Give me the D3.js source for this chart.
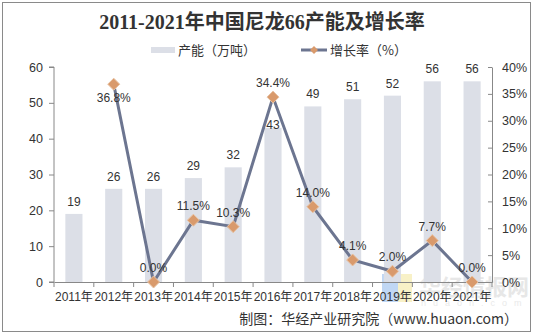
<!DOCTYPE html>
<html><head><meta charset="utf-8">
<script src="https://cdnjs.cloudflare.com/ajax/libs/d3/7.8.5/d3.min.js"></script>
<style>body{margin:0;background:#fff}svg{display:block}</style>
</head><body><svg id="c" width="533" height="335"></svg>
<script>
const years = ["2011年","2012年","2013年","2014年","2015年","2016年","2017年","2018年","2019年","2020年","2021年"];
const capacity = [19,26,26,29,32,43,49,51,52,56,56];
const growth = [null,36.8,0.0,11.5,10.3,34.4,14.0,4.1,2.0,7.7,0.0];
const leftTicks = [0,10,20,30,40,50,60];
const rightTicks = [0,5,10,15,20,25,30,35,40];

const svg = d3.select("#c");
const font = "Liberation Sans, Arial, Noto Sans CJK SC, sans-serif";
const m = {l:54, r:492, t:67, b:282};

svg.append("rect").attr("x",2.5).attr("y",2.5).attr("width",528).attr("height",329)
  .attr("fill","#fff").attr("stroke","#8a8a8a").attr("stroke-width",1);

svg.append("text").attr("x",262).attr("y",29).attr("text-anchor","middle")
  .attr("font-family","Liberation Serif, Noto Sans CJK SC, serif").attr("font-weight","bold")
  .attr("font-size",20).attr("fill","#333").text("2011-2021年中国尼龙66产能及增长率");

const x = d3.scaleBand().domain(years).range([m.l,m.r]).paddingInner(0.57).paddingOuter(0.285);
const xb = d3.scaleBand().domain(years).range([m.l,m.r]);
const y = d3.scaleLinear().domain([0,60]).range([m.b,m.t]);
const y2 = d3.scaleLinear().domain([0,40]).range([m.b,m.t]);

// watermark
const wm = svg.append("g").attr("opacity",0.55);
wm.append("rect").attr("x",382).attr("y",274).attr("width",16).attr("height",28).attr("fill","#8db8ec");
wm.append("rect").attr("x",398).attr("y",274).attr("width",14).attr("height",28).attr("fill","#f4e79a");
wm.append("text").attr("x",419).attr("y",295).attr("font-family","Noto Sans CJK SC").attr("font-weight","bold")
  .attr("font-size",22).attr("fill","#d4d4d4").text("华经情报网");
wm.append("text").attr("x",421).attr("y",306).attr("font-family",font)
  .attr("font-size",9).attr("letter-spacing",7).attr("fill","#d8d8d8").text("huaon.com");

// bars
svg.append("g").selectAll("rect").data(capacity).join("rect")
  .attr("x",(d,i)=>x(years[i])).attr("width",x.bandwidth())
  .attr("y",d=>y(d)).attr("height",d=>y(0)-y(d)).attr("fill","#dcdfe7");

svg.append("g").selectAll("text").data(capacity).join("text")
  .attr("x",(d,i)=>xb(years[i])+xb.bandwidth()/2)
  .attr("y",(d,i)=>y(d)-(i===5?-1:8)).attr("text-anchor","middle")
  .attr("font-family",font).attr("font-size",12).attr("fill","#333").text(d=>d);

// axes
const gl = svg.append("g").attr("transform",`translate(${m.l},0)`)
  .call(d3.axisLeft(y).tickValues(leftTicks).tickSize(5).tickPadding(6));
const gr = svg.append("g").attr("transform",`translate(${m.r},0)`)
  .call(d3.axisRight(y2).tickValues(rightTicks).tickFormat(d=>d+"%").tickSizeInner(-4).tickSizeOuter(0).tickPadding(10));
const gx = svg.append("g").attr("transform",`translate(0,${m.b})`)
  .call(d3.axisBottom(xb).tickSize(0).tickPadding(10));
gx.selectAll(".tick line").remove();
gx.append("g").selectAll("line").data(d3.range(years.length+1)).join("line")
  .attr("x1",i=>m.l+i*xb.step()).attr("x2",i=>m.l+i*xb.step()).attr("y1",0).attr("y2",5).attr("stroke","#888");
gl.select(".domain").attr("d",`M-5,${m.t}H0V${m.b}H-5`);
[gl,gr,gx].forEach(g=>{
  g.selectAll(".domain").attr("stroke","#888");
  g.selectAll(".tick line").attr("stroke","#888");
  g.selectAll("text").attr("font-family",font).attr("font-size",12.5).attr("fill","#333");
});
gx.selectAll("text").attr("font-size",12);

// line
const pts = growth.map((v,i)=>({v,i})).filter(d=>d.v!==null);
const line = d3.line().x(d=>xb(years[d.i])+xb.bandwidth()/2).y(d=>y2(d.v));
svg.append("path").datum(pts).attr("d",line).attr("fill","none").attr("stroke","#6c7590").attr("stroke-width",3);
svg.append("g").selectAll("path").data(pts).join("path")
  .attr("transform",d=>`translate(${xb(years[d.i])+xb.bandwidth()/2},${y2(d.v)})`)
  .attr("d","M0,-6L6,0L0,6L-6,0Z").attr("fill","#d99a6c").attr("stroke","#e8c3a4").attr("stroke-width",1);
svg.append("g").selectAll("text").data(pts).join("text")
  .attr("x",d=>xb(years[d.i])+xb.bandwidth()/2)
  .attr("y",d=>y2(d.v)+(d.i===1?18:-10)).attr("text-anchor","middle")
  .attr("font-family",font).attr("font-size",12).attr("fill","#333").text(d=>d.v.toFixed(1)+"%");

// legend
const lg = svg.append("g").attr("font-family","Noto Sans CJK SC, sans-serif").attr("font-size",13).attr("fill","#333");
lg.append("rect").attr("x",151).attr("y",47).attr("width",24).attr("height",6).attr("fill","#dcdfe7");
lg.append("text").attr("x",178).attr("y",55).text("产能（万吨）");
lg.append("line").attr("x1",301).attr("x2",327).attr("y1",50).attr("y2",50).attr("stroke","#6c7590").attr("stroke-width",3);
lg.append("path").attr("transform","translate(314,50)").attr("d","M0,-4L4,0L0,4L-4,0Z").attr("fill","#d99a6c");
lg.append("text").attr("x",330).attr("y",55).text("增长率（%）");

svg.append("text").attr("x",518).attr("y",324).attr("text-anchor","end")
  .attr("font-family","Noto Sans CJK SC, sans-serif").attr("font-size",14).attr("fill","#333")
  .text("制图：华经产业研究院（www.huaon.com）");
</script></body></html>
